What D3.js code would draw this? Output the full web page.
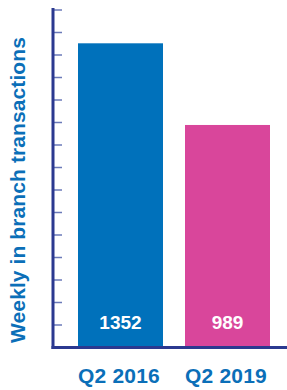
<!DOCTYPE html>
<html>
<head>
<meta charset="utf-8">
<script src="https://cdn.jsdelivr.net/npm/d3@7"></script>
<style>
  body { margin: 0; background: #fff; }
  svg { display: block; font-family: "Liberation Sans", Arial, sans-serif; }
</style>
</head>
<body>
<svg id="chart" width="287" height="390"></svg>
<script>
const categories = ['Q2 2016', 'Q2 2019'];
const values = [1352, 989];
const barColors = ['#0071bb', '#d9469b'];
const yTicks = d3.range(0, 1501, 100);
const yLabel = 'Weekly in branch transactions';

const svg = d3.select('#chart');
const base = 347.5;

const x = d3.scaleBand().domain(categories).range([78, 270]).paddingInner(0.2056).paddingOuter(0);
const y = d3.scaleLinear().domain([0, 1500]).range([base, 10]);

// bars
svg.selectAll('.bar')
    .data(values)
    .enter().append('rect')
    .attr('class', 'bar')
    .attr('x', (d, i) => x(categories[i]))
    .attr('width', x.bandwidth())
    .attr('y', d => y(d))
    .attr('height', d => base - y(d))
    .attr('fill', (d, i) => barColors[i]);

// value labels inside bars
svg.selectAll('.val')
    .data(values)
    .enter().append('text')
    .attr('x', (d, i) => x(categories[i]) + x.bandwidth() / 2)
    .attr('y', base - 18.5)
    .attr('text-anchor', 'middle')
    .attr('fill', '#fff')
    .attr('font-weight', 'bold')
    .attr('font-size', 19)
    .text(d => d);

// y axis ticks
svg.append('g')
    .selectAll('line')
    .data(yTicks.slice(1))
    .enter().append('line')
    .attr('x1', 53).attr('x2', 62)
    .attr('y1', d => y(d)).attr('y2', d => y(d))
    .attr('stroke', '#6b7ab8')
    .attr('stroke-width', 1.5);

// axis lines
svg.append('line')
    .attr('x1', 53).attr('x2', 53)
    .attr('y1', 8).attr('y2', base + 1.5)
    .attr('stroke', '#2b3990').attr('stroke-width', 3);
svg.append('line')
    .attr('x1', 51.5).attr('x2', 287)
    .attr('y1', base).attr('y2', base)
    .attr('stroke', '#2b3990').attr('stroke-width', 3);

// category labels
svg.selectAll('.cat')
    .data(categories)
    .enter().append('text')
    .attr('x', d => x(d) + x.bandwidth() / 2 - 1.5)
    .attr('y', 383)
    .attr('text-anchor', 'middle')
    .attr('fill', '#0b6fb8')
    .attr('font-weight', 'bold')
    .attr('font-size', 21)
    .attr('letter-spacing', 0.2)
    .text(d => d);

// y label
svg.append('text')
    .attr('transform', 'translate(25,190) rotate(-90)')
    .attr('text-anchor', 'middle')
    .attr('fill', '#0b6fb8')
    .attr('font-weight', 'bold')
    .attr('font-size', 21)
    .attr('letter-spacing', 0.1)
    .text(yLabel);
</script>
</body>
</html>
